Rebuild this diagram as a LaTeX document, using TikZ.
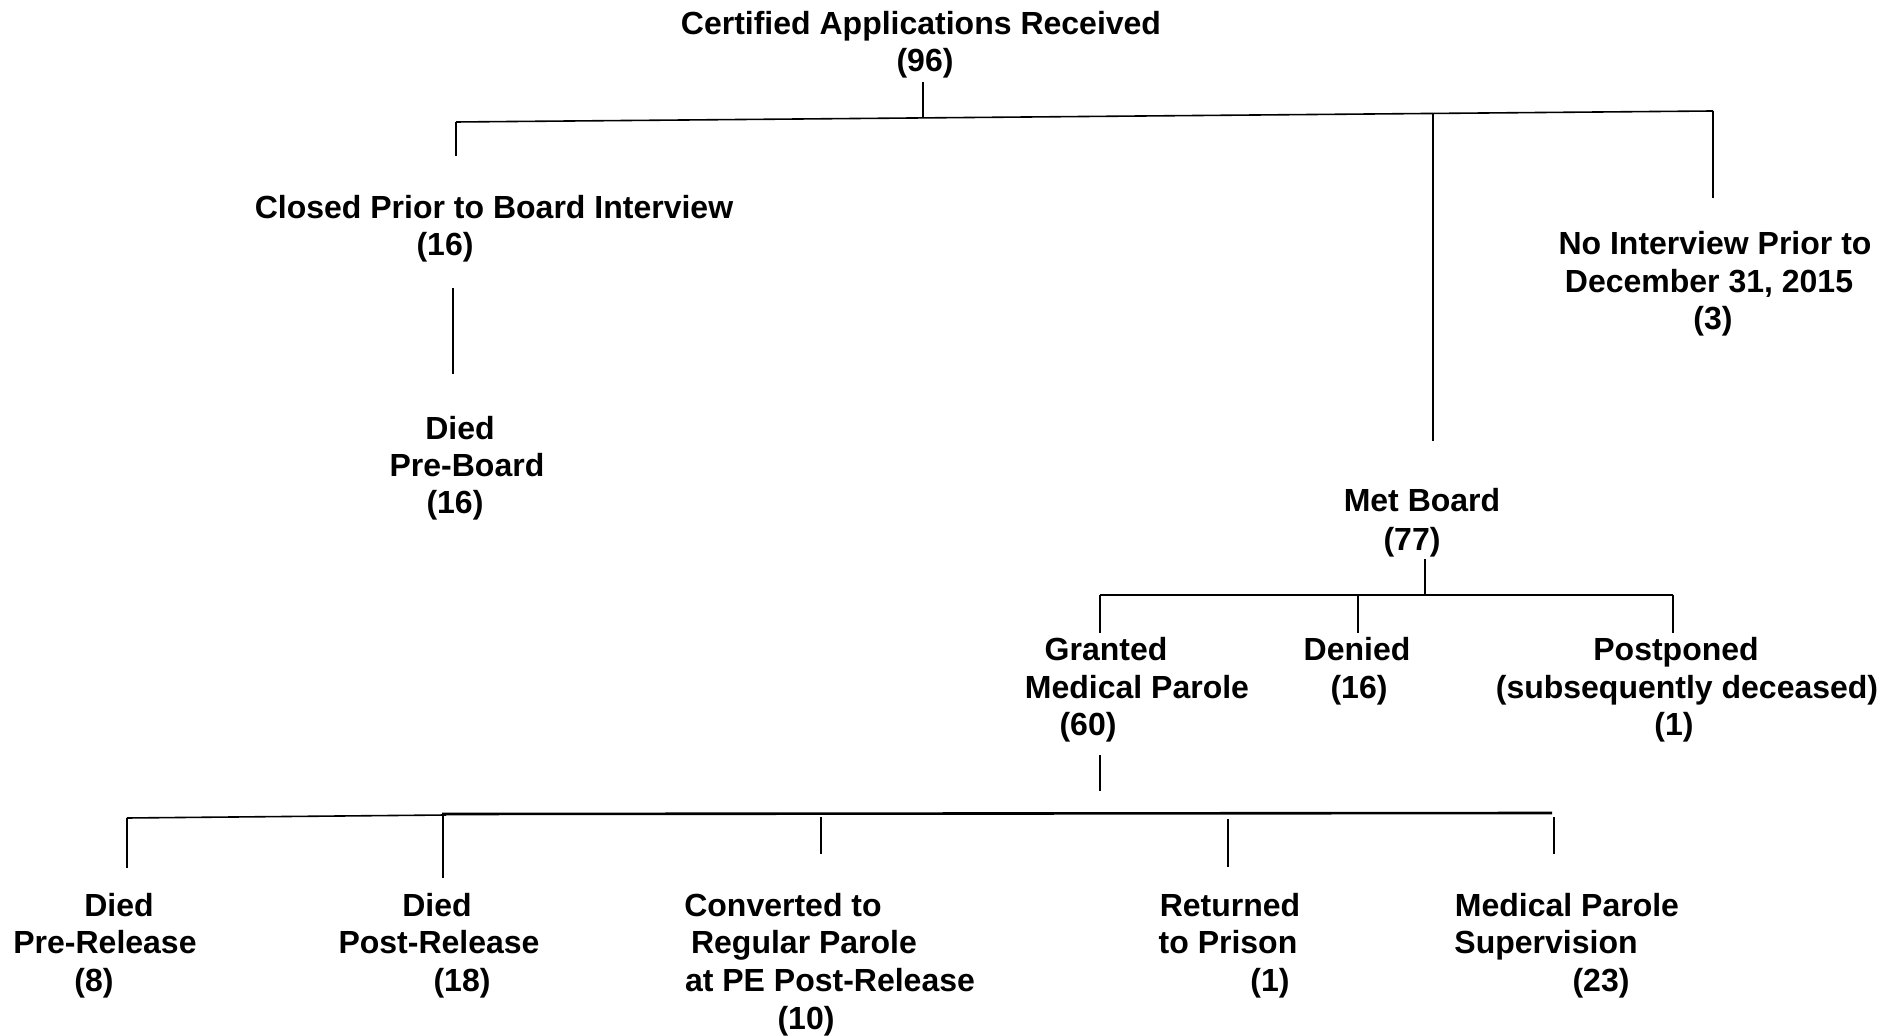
\documentclass[tikz,border=0pt]{standalone}
\usepackage{fontspec}
\setmainfont{Liberation Sans}
\begin{document}
\begin{tikzpicture}[x=0.5pt,y=-0.5pt,
  lbl/.style={font=\fontsize{16}{19}\selectfont\bfseries, anchor=base, inner sep=0pt},
  conn/.style={line width=0.8pt, black},
  heavy/.style={line width=1.3pt, black}]
\useasboundingbox (0,0) rectangle (1900,1036);
% ---------- text ----------
\node[lbl] (top1) at (921,35) {Certified Applications Received};
\node[lbl] (top2) at (925,72) {(96)};
\node[lbl] (cl1) at (494,219) {Closed Prior to Board Interview};
\node[lbl] (cl2) at (445,256) {(16)};
\node[lbl] (dp1) at (460,440) {Died};
\node[lbl] (dp2) at (467,477) {Pre-Board};
\node[lbl] (dp3) at (455,514) {(16)};
\node[lbl] (ni1) at (1715,255) {No Interview Prior to};
\node[lbl] (ni2) at (1709,293) {December 31, 2015};
\node[lbl] (ni3) at (1713,330) {(3)};
\node[lbl] (mb1) at (1422,512) {Met Board};
\node[lbl] (mb2) at (1412,551) {(77)};
\node[lbl] (gr1) at (1106,661) {Granted};
\node[lbl] (gr2) at (1137,698) {Medical Parole};
\node[lbl] (gr3) at (1088,735) {(60)};
\node[lbl] (de1) at (1357,661) {Denied};
\node[lbl] (de2) at (1359,698) {(16)};
\node[lbl] (po1) at (1676,661) {Postponed};
\node[lbl] (po2) at (1687,698) {(subsequently deceased)};
\node[lbl] (po3) at (1674,735) {(1)};
\node[lbl] (pr1) at (119,916) {Died};
\node[lbl] (pr2) at (105,953) {Pre-Release};
\node[lbl] (pr3) at (94,991) {(8)};
\node[lbl] (ps1) at (437,916) {Died};
\node[lbl] (ps2) at (439,953) {Post-Release};
\node[lbl] (ps3) at (462,991) {(18)};
\node[lbl] (cv1) at (783,916) {Converted to};
\node[lbl] (cv2) at (804,953) {Regular Parole};
\node[lbl] (cv3) at (830,991) {at PE Post-Release};
\node[lbl] (cv4) at (806,1029) {(10)};
\node[lbl] (rt1) at (1230,916) {Returned};
\node[lbl] (rt2) at (1228,953) {to Prison};
\node[lbl] (rt3) at (1270,991) {(1)};
\node[lbl] (ms1) at (1567,916) {Medical Parole};
\node[lbl] (ms2) at (1546,953) {Supervision};
\node[lbl] (ms3) at (1601,991) {(23)};
% ---------- coordinates ----------
\coordinate (t0) at (923,82);
\coordinate (tj) at (923,117.9);
\coordinate (tl) at (456,122);
\coordinate (tr) at (1713,111);
\coordinate (tlb) at (456,156);
\coordinate (tm) at (1433,113.4);
\coordinate (tmb) at (1433,441);
\coordinate (trb) at (1713,198);
\coordinate (c0) at (453,288);
\coordinate (c1) at (453,374);
\coordinate (m0) at (1425,559);
\coordinate (mj) at (1425,595);
\coordinate (ml) at (1100,595);
\coordinate (mr) at (1673,595);
\coordinate (md) at (1358,595);
\coordinate (mlb) at (1100,633);
\coordinate (mdb) at (1358,633);
\coordinate (mrb) at (1673,633);
\coordinate (g0) at (1100,755);
\coordinate (g1) at (1100,791);
\coordinate (ba) at (127,818);
\coordinate (bb) at (446,815);
\coordinate (bc) at (442,814);
\coordinate (bd) at (1552,813);
\coordinate (d1a) at (127,818);  \coordinate (d1b) at (127,868);
\coordinate (d2a) at (443,815);  \coordinate (d2b) at (443,878);
\coordinate (d3a) at (821,817);  \coordinate (d3b) at (821,854);
\coordinate (d4a) at (1228,819); \coordinate (d4b) at (1228,867);
\coordinate (d5a) at (1554,817); \coordinate (d5b) at (1554,854);
% ---------- connectors ----------
\draw[conn] (t0) -- (tj);
\draw[conn] (tl) -- (tr);
\draw[conn] (tl) -- (tlb);
\draw[conn] (tm) -- (tmb);
\draw[conn] (tr) -- (trb);
\draw[conn] (c0) -- (c1);
\draw[conn] (m0) -- (mj);
\draw[heavy] (ml) -- (mr);
\draw[conn] (ml) -- (mlb);
\draw[conn] (md) -- (mdb);
\draw[conn] (mr) -- (mrb);
\draw[conn] (g0) -- (g1);
\draw[conn] (ba) -- (bb);
\draw[heavy] (bc) -- (bd);
\draw[conn] (d1a) -- (d1b);
\draw[conn] (d2a) -- (d2b);
\draw[conn] (d3a) -- (d3b);
\draw[conn] (d4a) -- (d4b);
\draw[conn] (d5a) -- (d5b);
\end{tikzpicture}
\end{document}
